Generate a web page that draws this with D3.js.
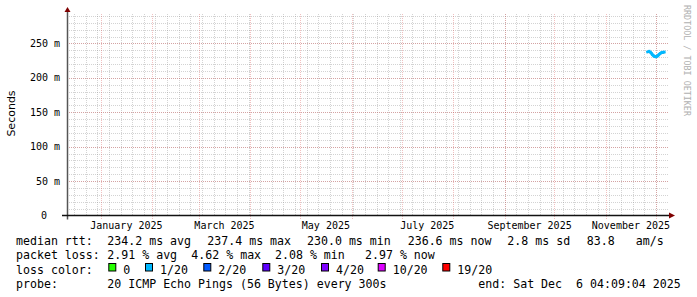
<!DOCTYPE html>
<html>
<head>
<meta charset="utf-8">
<script src="https://cdn.jsdelivr.net/npm/d3@7"></script>
<style>
  body { margin: 0; background: #fff; }
  svg { display: block; }
  text { font-family: "DejaVu Sans Mono", monospace; fill: #000; white-space: pre; }
</style>
</head>
<body>
<svg id="chart" width="697" height="297"></svg>
<script>
// ---- data ----
const endTime = new Date(Date.UTC(2025, 11, 6, 4, 9, 4));
const spanDays = 360;

const sampleTimes = ["2025-11-26T00:00Z", "2025-11-27T00:00Z", "2025-11-28T00:00Z", "2025-11-29T00:00Z",
  "2025-11-30T00:00Z", "2025-12-01T00:00Z", "2025-12-02T00:00Z", "2025-12-03T00:00Z",
  "2025-12-04T00:00Z", "2025-12-05T00:00Z", "2025-12-06T00:00Z"];
const medianMs = [236.8, 237.4, 235.6, 232.6, 230.6, 230.0, 231.0, 233.4, 235.2, 236.2, 236.6];
const smokeLowMs = [235.8, 236.4, 234.4, 231.6, 229.8, 229.2, 230.0, 232.4, 234.2, 235.2, 235.6];
const smokeHighMs = [237.6, 238.2, 236.6, 233.8, 231.6, 231.0, 232.4, 235.0, 236.8, 237.6, 238.0];
const lossCount = [1, 1, 1, 1, 1, 1, 1, 1, 1, 1, 1];

const yMajorTicks = [0, 0.05, 0.10, 0.15, 0.20, 0.25];
const xLabelMonths = ["2025-01", "2025-03", "2025-05", "2025-07", "2025-09", "2025-11"];

const lossLevels = [0, 1, 2, 3, 4, 10, 19];
const lossLabels = ["0", "1/20", "2/20", "3/20", "4/20", "10/20", "19/20"];
const lossColors = ["#26ff00", "#00b8ff", "#0059ff", "#5e00ff", "#7e00ff", "#dd00ff", "#ff0000"];

const rttStats = ["234.2 ms avg", "237.4 ms max", "230.0 ms min", "236.6 ms now", "2.8 ms sd", "83.8", "am/s"];
const lossStats = ["2.91 % avg", "4.62 % max", "2.08 % min", "2.97 % now"];
const probeText = "20 ICMP Echo Pings (56 Bytes) every 300s";
const endText = "end: Sat Dec  6 04:09:04 2025";

// ---- layout ----
const svg = d3.select("#chart");
const plotL = 66, plotR = 664.5, plotT = 13.5, plotB = 215.5;
const startTime = new Date(endTime.getTime() - spanDays * 864e5);

const x = d3.scaleTime().domain([startTime, endTime]).range([plotL, plotR]);
const y = d3.scaleLinear().domain([0, 0.2935]).range([plotB, plotT]);

const grid = svg.append("g").attr("shape-rendering", "crispEdges");
const minorCol = "rgba(140,140,140,0.38)", majorCol = "rgba(215,70,70,0.34)";

// minor grid
d3.range(0.01, 0.2935, 0.01).forEach(v => {
  grid.append("line").attr("x1", plotL + 1).attr("x2", 668)
    .attr("y1", Math.round(y(v)) + 0.5).attr("y2", Math.round(y(v)) + 0.5)
    .attr("stroke", minorCol).attr("stroke-dasharray", "1,1");
});
d3.utcMonday.range(startTime, endTime).forEach(d => {
  grid.append("line").attr("y1", plotT).attr("y2", plotB)
    .attr("x1", Math.round(x(d)) + 0.5).attr("x2", Math.round(x(d)) + 0.5)
    .attr("stroke", minorCol).attr("stroke-dasharray", "1,1");
});
// major grid
yMajorTicks.filter(v => v > 0).forEach(v => {
  grid.append("line").attr("x1", plotL + 1).attr("x2", 668)
    .attr("y1", Math.round(y(v)) + 0.5).attr("y2", Math.round(y(v)) + 0.5)
    .attr("stroke", majorCol).attr("stroke-dasharray", "1,1");
});
d3.utcMonth.range(startTime, endTime).forEach(d => {
  grid.append("line").attr("y1", plotT).attr("y2", plotB + 3)
    .attr("x1", Math.round(x(d)) + 0.5).attr("x2", Math.round(x(d)) + 0.5)
    .attr("stroke", majorCol).attr("stroke-dasharray", "1,1");
});

// smoke
const pts = sampleTimes.map((t, i) => ({
  t: new Date(t), med: medianMs[i] / 1000, lo: smokeLowMs[i] / 1000,
  hi: smokeHighMs[i] / 1000, loss: lossCount[i]
}));
svg.append("g").selectAll("rect").data(pts).enter().append("rect")
  .attr("x", d => x(d.t) - 0.8).attr("width", 1.7)
  .attr("y", d => y(d.hi)).attr("height", d => y(d.lo) - y(d.hi))
  .attr("fill", "#b8b8b8");

// median line coloured by loss
const colorFor = n => {
  let c = lossColors[0];
  lossLevels.forEach((lv, i) => { if (n >= lv) c = lossColors[i]; });
  return c;
};
const seg = svg.append("g");
seg.append("path").datum(pts)
  .attr("d", d3.line().x(d => x(d.t)).y(d => y(d.med)))
  .attr("fill", "none").attr("stroke", "#000").attr("stroke-width", 1);
for (let i = 1; i < pts.length; i++) {
  seg.append("path").datum([pts[i - 1], pts[i]])
    .attr("d", d3.line().x(d => x(d.t)).y(d => y(d.med) - 0.6))
    .attr("fill", "none").attr("stroke", colorFor(pts[i].loss))
    .attr("stroke-width", 2.8).attr("stroke-linecap", "square");
}

// axes
svg.append("line").attr("x1", plotL + 1.5).attr("x2", plotL + 1.5).attr("y1", plotB + 4).attr("y2", 11)
  .attr("stroke", "#555").attr("stroke-width", 1.5);
svg.append("path").attr("d", `M${plotL + 1.5},7 L${plotL - 1.5},12 L${plotL + 4.5},12 Z`).attr("fill", "#7f0000");
svg.append("line").attr("x1", 62).attr("x2", 671).attr("y1", plotB).attr("y2", plotB)
  .attr("stroke", "#111").attr("stroke-width", 1.6);
svg.append("path").attr("d", `M675,${plotB} L669,${plotB - 3} L669,${plotB + 3} Z`).attr("fill", "#7f0000");

// y labels
svg.append("g").selectAll("text").data(yMajorTicks).enter().append("text")
  .attr("x", d => d === 0 ? 47 : 60).attr("y", d => y(d) + 3.6)
  .attr("text-anchor", "end").attr("font-size", 10)
  .text(d => d === 0 ? "0" : d3.format(".0f")(d * 1000) + " m");

// x labels, centred on the month
svg.append("g").selectAll("text").data(xLabelMonths).enter().append("text")
  .attr("x", m => {
    const a = d3.utcParse("%Y-%m")(m);
    return (x(a) + x(d3.utcMonth.offset(a, 1))) / 2;
  })
  .attr("y", 228.5).attr("text-anchor", "middle").attr("font-size", 10)
  .text(m => d3.utcFormat("%B %Y")(d3.utcParse("%Y-%m")(m)));

// y title
svg.append("text").attr("transform", "translate(15,113.5) rotate(-90)")
  .attr("text-anchor", "middle").attr("font-size", 11)
  .style("font-family", "'DejaVu Sans', sans-serif").text("Seconds");

// watermark
svg.append("text").attr("transform", "translate(683.5,5) rotate(90)")
  .attr("font-size", 8.4).style("fill", "#b0b0b0").text("RRDTOOL / TOBI OETIKER");

// legend
const lg = svg.append("g").attr("font-size", 11.6);
const rowY = [245, 259.3, 273.5, 287.5];
lg.append("text").attr("x", 16).attr("y", rowY[0]).text("median rtt:");
const rttX = [107.3, 207.3, 307, 407.7, 507.3, 586.7, 635.7];
rttStats.forEach((s, i) => lg.append("text").attr("x", rttX[i]).attr("y", rowY[0]).text(s));

lg.append("text").attr("x", 16).attr("y", rowY[1]).text("packet loss:");
const lossX = [107.3, 191.3, 275, 365];
lossStats.forEach((s, i) => lg.append("text").attr("x", lossX[i]).attr("y", rowY[1]).text(s));

lg.append("text").attr("x", 16).attr("y", rowY[2]).text("loss color:");
const boxX = [108.3, 145, 203.3, 262.3, 321, 377.7, 442.3];
lossLabels.forEach((s, i) => {
  lg.append("rect").attr("x", boxX[i] + 0.5).attr("y", 263.5).attr("width", 7).attr("height", 7.5)
    .attr("fill", lossColors[i]).attr("stroke", "#000").attr("stroke-width", 1);
  lg.append("text").attr("x", boxX[i] + 15).attr("y", rowY[2]).text(s);
});

lg.append("text").attr("x", 16).attr("y", rowY[3]).text("probe:");
lg.append("text").attr("x", 107.3).attr("y", rowY[3]).text(probeText);
lg.append("text").attr("x", 478.3).attr("y", rowY[3]).text(endText);
</script>
</body>
</html>
